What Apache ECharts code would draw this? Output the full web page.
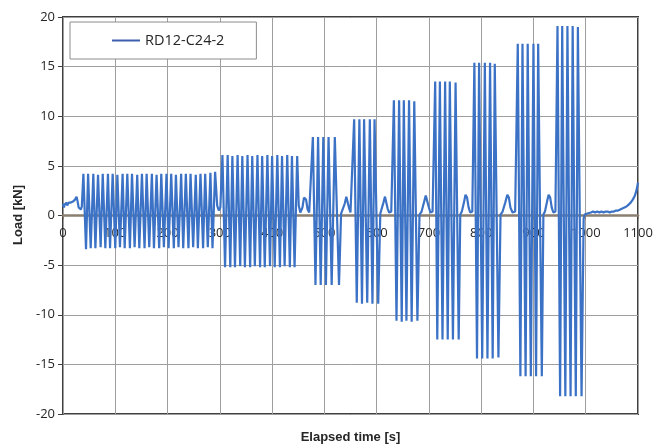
<!DOCTYPE html>
<html>
<head>
<meta charset="utf-8">
<script src="https://cdn.jsdelivr.net/npm/echarts@6/dist/echarts.min.js"></script>
<style>html,body{margin:0;padding:0;background:#fff}#c{width:657px;height:448px}</style>
</head>
<body>
<div id="c"></div>
<script>
// ---- data: [elapsed time (s), load (kN)] ----
const seriesName = 'RD12-C24-2';
const xTicks = [0,100,200,300,400,500,600,700,800,900,1000,1100];
const yTicks = [-20,-15,-10,-5,0,5,10,15,20];

const preload = [[0,0.9],[1,1.2],[2,0.8],[3,1.1],[4,0.9],[5,1.2],[6,1.0],[7,1.3],[8,1.0],[9,1.2],[10,1.1],[11,1.3],[12,1.1],[13,1.4],[14,1.2],[15,1.3],[16,1.2],[17,1.5],[18,1.3],[19,1.4],[20,1.3],[21,1.5],[22,1.4],[23,1.6],[24,1.5],[25,1.7],[26,1.9],[27,1.7],[28,1.4],[29,1.1],[30,0.8],[31,0.9],[32,0.7],[34,0.6],[36,0.9]];

const cycles1 = [[39,4.2],[44,-3.4],[48,4.2],[53,-3.3],[58,4.2],[62,-3.3],[67,4.1],[72,-3.2],[76,4.2],[81,-3.3],[86,4.2],[90,-3.3],[95,4.2],[100,-3.3],[104,4.1],[109,-3.2],[114,4.2],[118,-3.3],[123,4.2],[128,-3.3],[132,4.2],[137,-3.2],[142,4.1],[146,-3.3],[151,4.2],[156,-3.3],[160,4.2],[165,-3.2],[170,4.2],[174,-3.3],[179,4.1],[184,-3.3],[188,4.2],[193,-3.2],[198,4.2],[202,-3.3],[207,4.2],[212,-3.3],[216,4.1],[221,-3.2],[226,4.2],[230,-3.3],[235,4.2],[240,-3.3],[244,4.2],[249,-3.2],[254,4.1],[258,-3.3],[263,4.2],[268,-3.3],[272,4.2],[277,-3.2],[282,4.3],[286,-3.3],[291,4.4]];
const pause1 = [[295,1.0],[298,0.5],[301,0.8]];

const cycles2 = [[305,6.1],[310,-5.2],[315,6.1],[320,-5.2],[324,6.0],[329,-5.2],[334,6.1],[339,-5.1],[343,6.0],[348,-5.2],[353,6.1],[358,-5.2],[362,6.0],[367,-5.1],[372,6.1],[377,-5.2],[381,6.0],[386,-5.2],[391,6.1],[396,-5.1],[400,6.0],[405,-5.2],[410,6.1],[415,-5.2],[419,6.0],[424,-5.1],[429,6.1],[434,-5.2],[438,6.0],[443,-5.2],[448,6.0]];
const pause2 = [[451,1.0],[454,0.3],[458,0.8],[461,1.8],[463,2.0],[465,1.6],[468,0.6],[471,0.3],[474,0.4]];

const cycles3 = [[478,7.9],[483,-7.0],[488,7.9],[493,-7.0],[498,7.9],[503,-7.0],[508,7.9],[514,-7.0],[520,7.9],[528,-7.0]];
const pause3 = [[532,0.2],[535,0.4],[539,1.2],[542,1.9],[544,1.8],[547,0.8],[550,0.3],[553,0.4]];

const cycles4 = [[557,9.7],[562,-8.8],[567,9.7],[572,-8.9],[576,9.7],[582,-8.8],[587,9.7],[592,-8.9],[596,9.7],[603,-8.9]];
const pause4 = [[607,0.2],[610,0.4],[613,1.3],[616,1.9],[618,1.7],[621,0.7],[624,0.3],[628,0.4]];

const cycles5 = [[633,11.6],[638,-10.6],[643,11.6],[648,-10.7],[652,11.6],[657,-10.6],[662,11.6],[667,-10.7],[672,11.5],[678,-10.6]];
const pause5 = [[682,0.1],[686,0.4],[690,1.2],[694,2.0],[697,1.8],[700,0.8],[703,0.3],[707,0.4]];

const cycles6 = [[712,13.5],[716,-12.5],[721,13.5],[726,-12.5],[731,13.5],[736,-12.5],[740,13.5],[746,-12.5],[751,13.4],[757,-12.5]];
const pause6 = [[760,0.1],[763,0.4],[767,1.3],[770,2.1],[773,1.8],[776,0.8],[779,0.3],[783,0.4]];

const cycles7 = [[787,15.4],[792,-14.4],[796,15.4],[802,-14.4],[807,15.4],[812,-14.4],[817,15.4],[822,-14.4],[826,15.3],[833,-14.3]];
const pause7 = [[837,0.1],[841,0.4],[846,1.3],[850,2.1],[853,1.8],[856,0.8],[860,0.3],[865,0.4]];

const cycles8 = [[870,17.3],[875,-16.2],[879,17.3],[885,-16.2],[889,17.3],[895,-16.2],[900,17.3],[905,-16.2],[909,17.3],[916,-16.2]];
const pause8 = [[919,0.1],[922,0.4],[926,1.4],[929,2.1],[932,1.8],[935,0.8],[938,0.3],[942,0.4]];

const cycles9 = [[946,19.1],[951,-18.2],[955,19.1],[961,-18.2],[965,19.1],[971,-18.2],[975,19.1],[981,-18.2],[985,19.0],[992,-18.2]];

const tail = [[996,-0.3],[998,0.1],[1000,0.3],[1003,0.2],[1006,0.4],[1010,0.3],[1014,0.4],[1018,0.3],[1022,0.4],[1026,0.3],[1030,0.4],[1034,0.3],[1038,0.4],[1042,0.4],[1046,0.3],[1050,0.4],[1054,0.4],[1058,0.5],[1062,0.5],[1066,0.6],[1070,0.7],[1074,0.8],[1078,0.9],[1082,1.1],[1086,1.3],[1090,1.6],[1094,2.0],[1097,2.5],[1100,3.3]];

const loadData = [].concat(preload, cycles1, pause1, cycles2, pause2, cycles3, pause3,
  cycles4, pause4, cycles5, pause5, cycles6, pause6, cycles7, pause7, cycles8, pause8, cycles9, tail);

const chart = echarts.init(document.getElementById('c'), null, {renderer: 'canvas'});
const tickFont = '"Open Sans", Lato, sans-serif';
chart.setOption({
  animation: false,
  backgroundColor: '#ffffff',
  grid: {left: 63, right: 19, top: 17, bottom: 34, show: true, borderColor: '#3f3f3f', borderWidth: 2, backgroundColor: 'transparent'},
  legend: {
    left: 70, top: 22,
    data: [seriesName],
    icon: 'rect', itemWidth: 28, itemHeight: 2, itemGap: 5,
    padding: [11, 32, 11, 42],
    borderColor: '#8c8c8c', borderWidth: 1, backgroundColor: '#ffffff',
    textStyle: {fontFamily: tickFont, fontSize: 14.5, color: '#262626'}
  },
  xAxis: {
    type: 'value', min: xTicks[0], max: xTicks[xTicks.length-1], interval: 100,
    offset: -198.5, z: 3,
    axisLine: {show: true, onZero: false, lineStyle: {color: '#8a7f70', width: 2.5}},
    axisTick: {show: true, length: 4, lineStyle: {color: '#8a7f70'}},
    axisLabel: {fontFamily: tickFont, fontSize: 13, color: '#262626', margin: 11, showMinLabel: true, showMaxLabel: true,
      formatter: v => String(v)},
    splitLine: {show: true, lineStyle: {color: '#9e9e9e', width: 1}}
  },
  yAxis: {
    type: 'value', min: yTicks[0], max: yTicks[yTicks.length-1], interval: 5,
    axisLine: {show: true, lineStyle: {color: '#3f3f3f', width: 2}},
    axisTick: {show: true, length: 5, inside: false, lineStyle: {color: '#3f3f3f'}},
    axisLabel: {fontFamily: tickFont, fontSize: 13, color: '#262626', margin: 8},
    splitLine: {show: true, lineStyle: {color: '#9e9e9e', width: 1}}
  },
  graphic: [
    {type: 'text', x: 350.5, y: 437, style: {text: 'Elapsed time [s]', fill: '#262626', font: 'bold 13px "Liberation Sans", Arial, sans-serif', textAlign: 'center', textVerticalAlign: 'middle'}},
    {type: 'text', x: 18, y: 215, rotation: Math.PI/2, style: {text: 'Load [kN]', fill: '#262626', font: 'bold 13px "Liberation Sans", Arial, sans-serif', textAlign: 'center', textVerticalAlign: 'middle'}}
  ],
  series: [{
    name: seriesName, type: 'line', data: loadData,
    symbol: 'none', smooth: false,
    lineStyle: {color: '#3b72c6', width: 2.2},
    itemStyle: {color: '#3b5fae'}
  }]
});
</script>
</body>
</html>
